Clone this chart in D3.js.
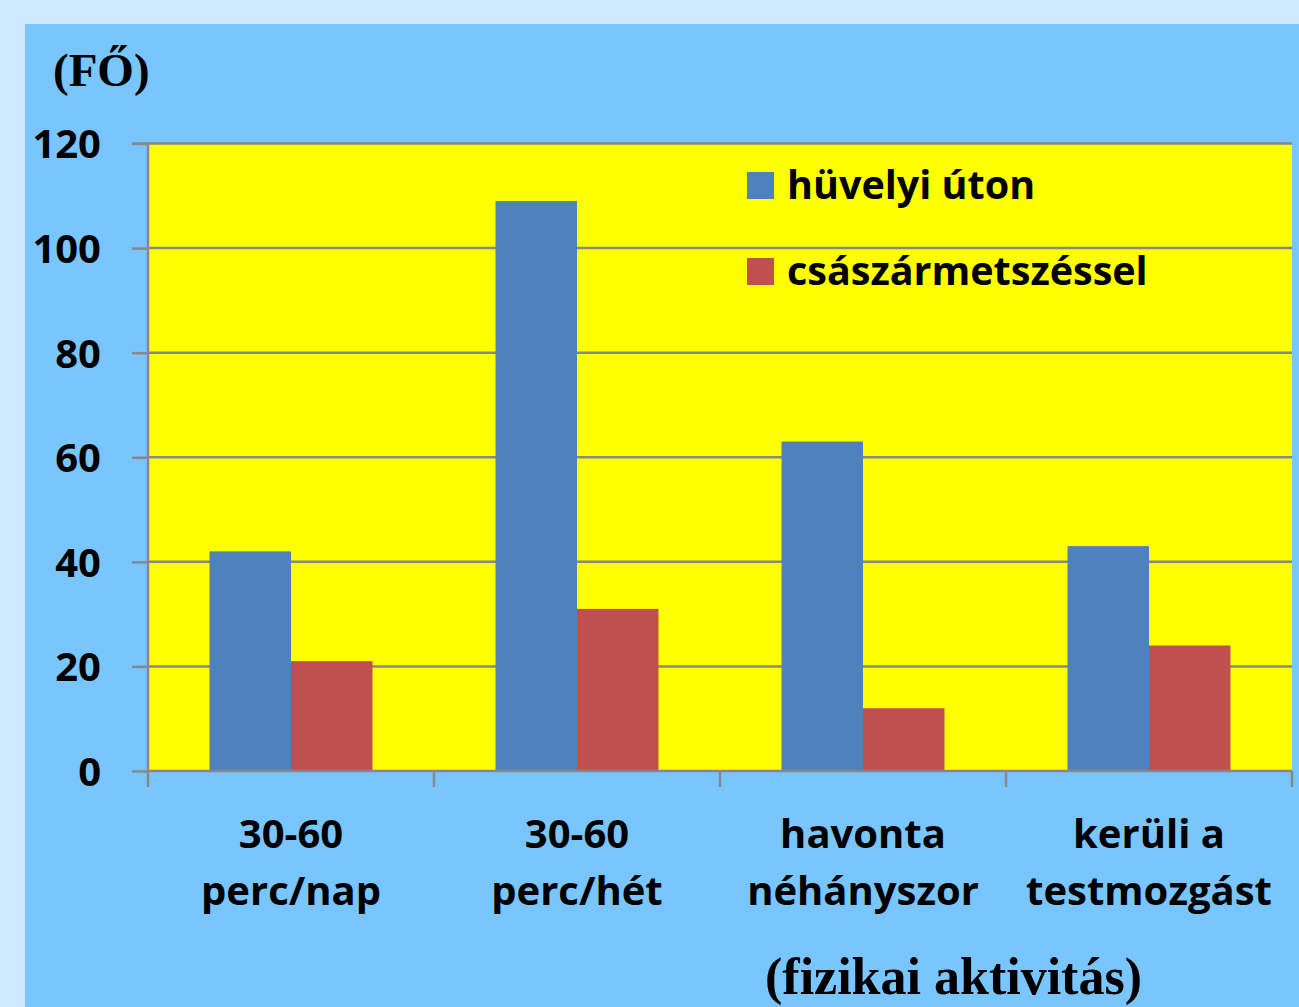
<!DOCTYPE html>
<html>
<head>
<meta charset="utf-8">
<script src="https://cdn.jsdelivr.net/npm/d3@7"></script>
<style>
html,body{margin:0;padding:0;background:#cdeafe;overflow:hidden;}
svg{display:block;}
</style>
</head>
<body>
<svg id="chart" width="1299" height="1007"></svg>
<script>
const categories = [["30-60","perc/nap"],["30-60","perc/hét"],["havonta","néhányszor"],["kerüli a","testmozgást"]];
const seriesNames = ["hüvelyi úton","császármetszéssel"];
const vaginal = [42,109,63,43];
const cesarean = [21,31,12,24];
const yTicks = [0,20,40,60,80,100,120];
const colors = ["#4f81bd","#c0504d"];

const svg = d3.select("#chart");
const W = 1299, H = 1007;
const plot = {left:148, top:143.5, right:1292, bottom:771};

svg.append("rect").attr("x",0).attr("y",0).attr("width",W).attr("height",H).attr("fill","#cdeafe");
svg.append("rect").attr("x",25).attr("y",24).attr("width",W-25).attr("height",H-24).attr("fill","#79c5fd");

const x0 = d3.scaleBand().domain(d3.range(categories.length)).range([plot.left, plot.right]).padding(0);
const x1 = d3.scaleBand().domain(d3.range(seriesNames.length)).range([0, x0.bandwidth()]).paddingInner(0).paddingOuter(0.755);
const y = d3.scaleLinear().domain([0,120]).range([plot.bottom, plot.top]);

svg.append("rect").attr("x",plot.left).attr("y",plot.top).attr("width",plot.right-plot.left).attr("height",plot.bottom-plot.top).attr("fill","#ffff00");

svg.append("g").selectAll("line").data(yTicks.filter(d=>d>0)).join("line")
  .attr("x1",plot.left).attr("x2",plot.right)
  .attr("y1",d=>y(d)).attr("y2",d=>y(d))
  .attr("stroke","#888888").attr("stroke-width",2.5);

const data = categories.map((c,i)=>[vaginal[i], cesarean[i]]);
const groups = svg.append("g").selectAll("g").data(data).join("g")
  .attr("transform",(d,i)=>`translate(${x0(i)},0)`);
groups.selectAll("rect").data(d=>d).join("rect")
  .attr("x",(d,j)=>x1(j)).attr("width",x1.bandwidth())
  .attr("y",d=>y(d)).attr("height",d=>y(0)-y(d))
  .attr("fill",(d,j)=>colors[j]);

const yAxis = d3.axisLeft(y).tickValues(yTicks).tickSize(16).tickPadding(31);
const gy = svg.append("g").attr("transform",`translate(${plot.left},0)`).call(yAxis);
gy.select(".domain").attr("stroke","#888888").attr("stroke-width",2.5).attr("d",`M-16,${plot.top}H0V${plot.bottom}`);
gy.selectAll(".tick line").attr("stroke","#888888").attr("stroke-width",2.5);
gy.selectAll(".tick text").attr("font-family","'Open Sans'").attr("font-weight","bold").attr("font-size",40).attr("fill","#000").attr("dy","0.36em");

const xEdges = d3.range(categories.length+1).map(i=> i<categories.length ? x0(i) : x0(categories.length-1)+x0.bandwidth());
const gx = svg.append("g");
gx.append("line").attr("x1",plot.left).attr("x2",plot.right).attr("y1",plot.bottom).attr("y2",plot.bottom).attr("stroke","#888888").attr("stroke-width",2.5);
gx.selectAll("line.t").data(xEdges).join("line").attr("class","t")
  .attr("x1",d=>d).attr("x2",d=>d).attr("y1",plot.bottom).attr("y2",plot.bottom+16)
  .attr("stroke","#888888").attr("stroke-width",2.5);
const lab = gx.selectAll("text").data(categories).join("text")
  .attr("x",(d,i)=>x0(i)+x0.bandwidth()/2).attr("y",848)
  .attr("text-anchor","middle").attr("font-family","'Open Sans'").attr("font-weight","bold").attr("font-size",40).attr("fill","#000");
lab.selectAll("tspan").data(d=>d).join("tspan")
  .attr("x",function(){return this.parentNode.getAttribute("x");})
  .attr("dy",(d,k)=>k===0?0:57).text(d=>d);

const legend = svg.append("g");
seriesNames.forEach((n,j)=>{
  const ly = 172 + j*86;
  legend.append("rect").attr("x",747).attr("y",ly).attr("width",27).attr("height",27).attr("fill",colors[j]);
  legend.append("text").attr("x",787).attr("y",ly+27).attr("font-family","'Open Sans'").attr("font-weight","bold").attr("font-size",39.5).attr("fill","#000").text(n);
});

svg.append("text").attr("x",53).attr("y",86).attr("font-family","'Liberation Serif'").attr("font-weight","bold").attr("font-size",47).attr("fill","#000").text("(FŐ)");
svg.append("text").attr("x",765).attr("y",994).attr("font-family","'Liberation Serif'").attr("font-weight","bold").attr("font-size",52).attr("fill","#000").text("(fizikai aktivitás)");
</script>
</body>
</html>
